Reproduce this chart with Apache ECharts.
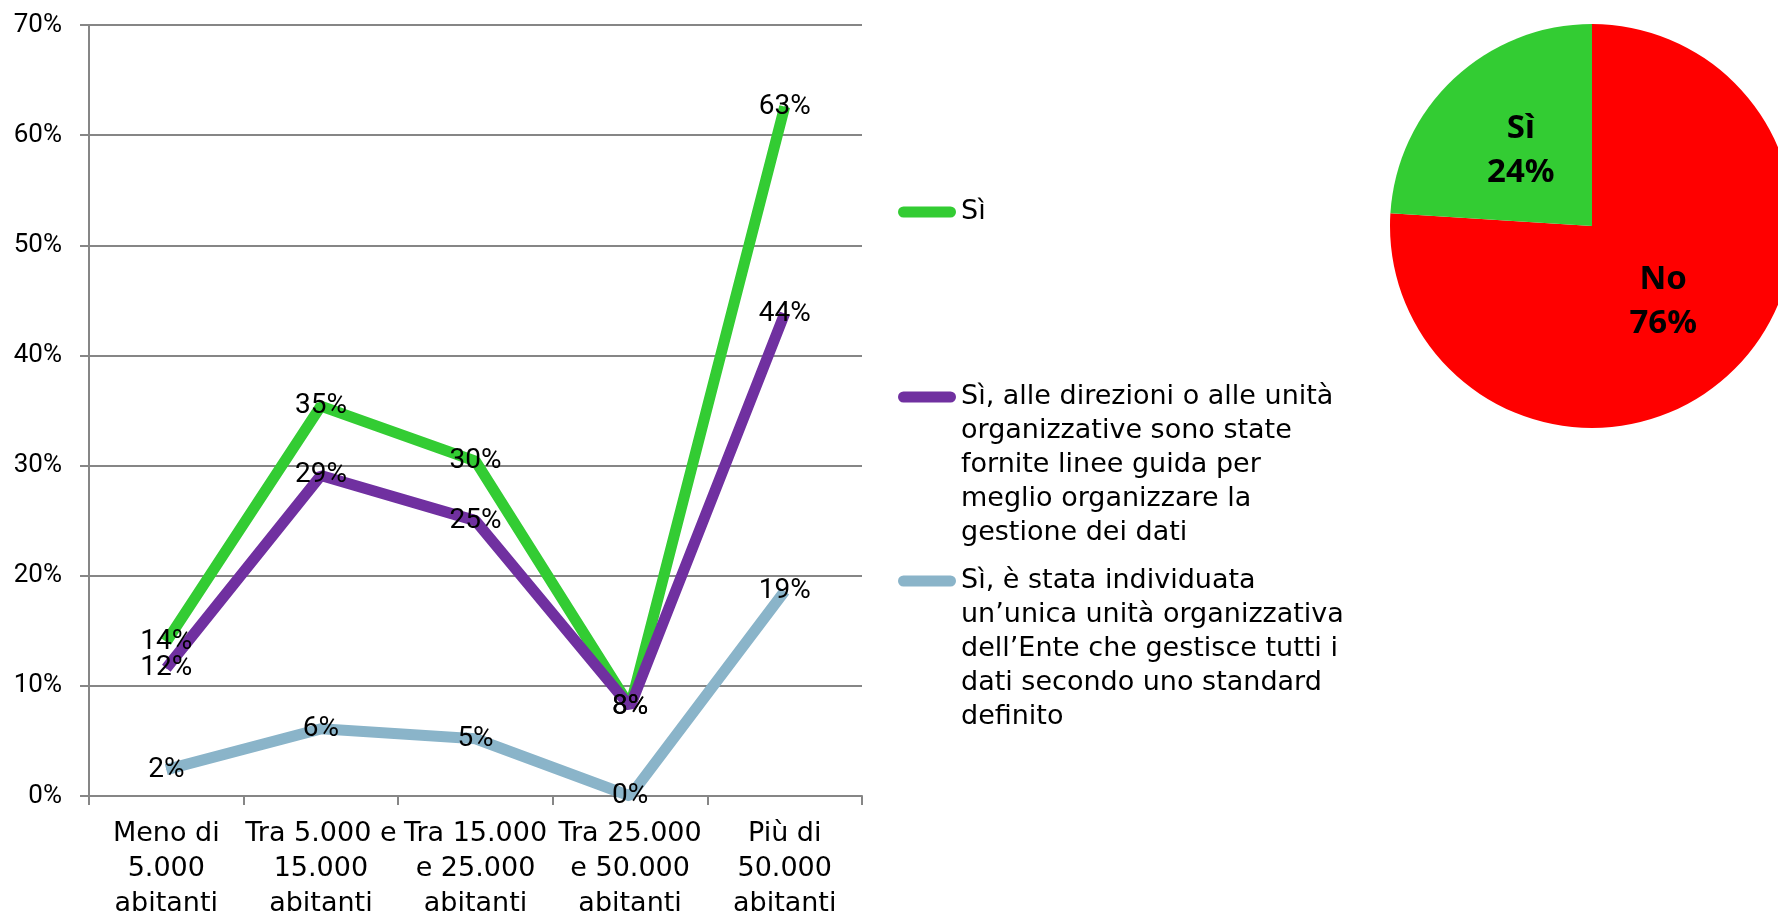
<!DOCTYPE html>
<html>
<head>
<meta charset="utf-8">
<script src="https://cdn.jsdelivr.net/npm/echarts@6/dist/echarts.min.js"></script>
<style>
html,body{margin:0;padding:0;background:#fff;}
#c{width:1778px;height:914px;}
</style>
</head>
<body>
<div id="c"></div>
<script>
var categories = ['Meno di\n5.000\nabitanti', 'Tra 5.000 e\n15.000\nabitanti', 'Tra 15.000\ne 25.000\nabitanti', 'Tra 25.000\ne 50.000\nabitanti', 'Più di\n50.000\nabitanti'];
var seriesNames = ['Sì', 'Sì, alle direzioni o alle unità organizzative sono state fornite linee guida per meglio organizzare la gestione dei dati', 'Sì, è stata individuata un\u2019unica unità organizzativa dell\u2019Ente che gestisce tutti i dati secondo uno standard definito'];
var legendLines = [
  ['Sì'],
  ['Sì, alle direzioni o alle unità', 'organizzative sono state', 'fornite linee guida per', 'meglio organizzare la', 'gestione dei dati'],
  ['Sì, è stata individuata', 'un\u2019unica unità organizzativa', 'dell\u2019Ente che gestisce tutti i', 'dati secondo uno standard', 'definito']
];
var siValues = [14.0, 35.4, 30.4, 8.1, 62.6];
var lineeGuidaValues = [11.6, 29.1, 25.0, 8.1, 43.8];
var unicaUnitaValues = [2.4, 6.1, 5.2, 0, 18.6];
var yTicks = [0, 10, 20, 30, 40, 50, 60, 70];
var pieNames = ['No', 'Sì'];
var pieValues = [76, 24];

var colors = ['#33CC33', '#7030A0', '#8AB4C9'];
var numFont = "Roboto, 'DejaVu Sans', sans-serif";
var textFont = "'DejaVu Sans', sans-serif";
var legendLH = 34;

function lineSeries(i, values) {
  return {
    type: 'line',
    name: seriesNames[i],
    data: values,
    symbol: 'circle',
    symbolSize: 1,
    showSymbol: true,
    itemStyle: {color: colors[i]},
    lineStyle: {color: colors[i], width: 11},
    label: {
      show: true,
      position: 'inside',
      color: '#000',
      fontFamily: numFont,
      fontSize: 28,
      formatter: function (p) { return Math.round(p.value) + '%'; }
    },
    emphasis: {disabled: true},
    silent: true
  };
}

function legendFor(i, firstLineCenter) {
  var n = legendLines[i].length;
  var text = new Array(n).join('\n') + legendLines[i].join('\n');
  var totalLines = 2 * n - 1;
  return {
    data: [seriesNames[i]],
    left: 898,
    top: firstLineCenter - totalLines * legendLH / 2,
    orient: 'vertical',
    padding: 0,
    itemWidth: 58,
    itemHeight: 11,
    icon: 'path://M5.5,0 H52.5 A5.5,5.5 0 0 1 52.5,11 H5.5 A5.5,5.5 0 0 1 5.5,0 Z',
    selectedMode: false,
    formatter: function () { return text; },
    textStyle: {
      fontFamily: textFont,
      fontSize: 27,
      color: '#000',
      lineHeight: legendLH
    }
  };
}

var chart = echarts.init(document.getElementById('c'), null, {renderer: 'canvas'});
chart.setOption({
  animation: false,
  backgroundColor: '#fff',
  grid: {left: 89, right: 916, top: 25, bottom: 118, containLabel: false, outerBoundsMode: 'none'},
  xAxis: {
    type: 'category',
    data: categories,
    boundaryGap: true,
    axisLine: {lineStyle: {color: '#868686', width: 2}},
    axisTick: {show: true, length: 9, lineStyle: {color: '#868686', width: 2}},
    axisLabel: {
      color: '#000',
      fontFamily: textFont,
      fontSize: 27,
      lineHeight: 35,
      margin: 20,
      interval: 0
    }
  },
  yAxis: {
    type: 'value',
    min: yTicks[0],
    max: yTicks[yTicks.length - 1],
    interval: 10,
    axisLine: {show: true, lineStyle: {color: '#868686', width: 2}},
    axisTick: {show: true, length: 9, lineStyle: {color: '#868686', width: 2}},
    splitLine: {show: true, lineStyle: {color: '#868686', width: 2}},
    axisLabel: {
      color: '#000',
      fontFamily: numFont,
      fontSize: 26,
      margin: 27,
      formatter: '{value}%'
    }
  },
  legend: [
    legendFor(0, 212),
    legendFor(1, 397),
    legendFor(2, 581)
  ],
  series: [
    lineSeries(0, siValues),
    lineSeries(1, lineeGuidaValues),
    lineSeries(2, unicaUnitaValues),
    {
      type: 'pie',
      center: [1592, 226],
      radius: 202,
      startAngle: 90,
      clockwise: true,
      silent: true,
      data: pieNames.map(function (n, i) {
        return {name: n, value: pieValues[i], itemStyle: {color: n === 'No' ? '#FF0000' : '#33CC33'}};
      }),
      label: {
        show: true,
        position: 'inner',
        color: '#000',
        fontFamily: "'Noto Sans', 'DejaVu Sans', sans-serif",
        fontWeight: 'bold',
        fontSize: 33,
        lineHeight: 44,
        formatter: function (p) { return p.name + '\n' + Math.round(p.percent) + '%'; }
      },
      labelLine: {show: false},
      emphasis: {disabled: true}
    }
  ]
});
</script>
</body>
</html>
